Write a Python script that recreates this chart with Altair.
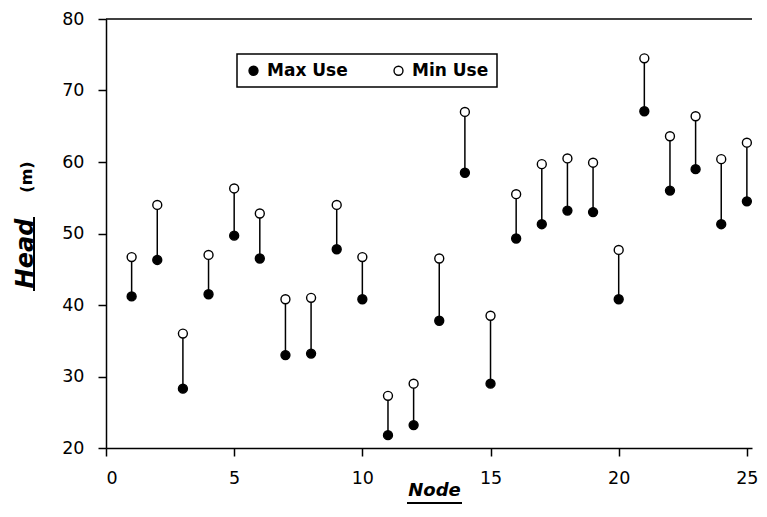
import altair as alt
import pandas as pd

nodes = list(range(1, 26))
max_use = [41.2, 46.3, 28.3, 41.5, 49.7, 46.5, 33.0, 33.2, 47.8, 40.8,
           21.8, 23.2, 37.8, 58.5, 29.0, 49.3, 51.3, 53.2, 53.0, 40.8,
           67.1, 56.0, 59.0, 51.3, 54.5]
min_use = [46.7, 54.0, 36.0, 47.0, 56.3, 52.8, 40.8, 41.0, 54.0, 46.7,
           27.3, 29.0, 46.5, 67.0, 38.5, 55.5, 59.7, 60.5, 59.9, 47.7,
           74.5, 63.6, 66.4, 60.4, 62.7]
series_names = ["Max Use", "Min Use"]
x_ticks = [0, 5, 10, 15, 20, 25]
y_ticks = [20, 30, 40, 50, 60, 70, 80]

wide = pd.DataFrame({"node": nodes, "max": max_use, "min": min_use})
long = pd.concat([
    pd.DataFrame({"node": nodes, "value": max_use, "series": series_names[0]}),
    pd.DataFrame({"node": nodes, "value": min_use, "series": series_names[1]}),
])
one = wide.head(1)

FONT = "DejaVu Sans"

xscale = alt.Scale(domain=[0, 25.2], nice=False, zero=False)
yscale = alt.Scale(domain=[20, 80], nice=False, zero=False)

xaxis = alt.Axis(values=x_ticks, grid=False, tickSize=8, tickColor="black",
                 domainColor="black", domainWidth=1.5, tickWidth=1.5,
                 labelFontSize=17.5, labelFont=FONT, labelColor="black", labelPadding=13,
                 title="Node", titleFont=FONT, titleFontSize=18,
                 titleFontWeight="bold", titleFontStyle="italic", titleColor="black",
                 titleX=328, titleY=42, titleBaseline="middle", titleAlign="center")
yaxis = alt.Axis(values=y_ticks, grid=False, tickSize=8, tickColor="black",
                 domainColor="black", domainWidth=1.5, tickWidth=1.5,
                 labelFontSize=17.5, labelFont=FONT, labelColor="black", labelPadding=14,
                 title="Head", titleFont=FONT, titleFontSize=24,
                 titleFontWeight="bold", titleFontStyle="italic", titleColor="black",
                 titleX=-81, titleY=234, titleAngle=270, titleBaseline="middle",
                 titleAlign="center")

top = alt.Chart(one).mark_rule(color="black", strokeWidth=1.5).encode(
    y=alt.datum(80, scale=yscale, axis=yaxis)
)

rules = alt.Chart(wide).mark_rule(color="black", strokeWidth=1.5).encode(
    x=alt.X("node:Q", scale=xscale, axis=xaxis),
    y=alt.Y("max:Q", scale=yscale, axis=yaxis),
    y2="min:Q",
)

points = alt.Chart(long).mark_circle(size=80, stroke="black", strokeWidth=1.4, opacity=1).encode(
    x=alt.X("node:Q", scale=xscale, axis=xaxis),
    y=alt.Y("value:Q", scale=yscale, axis=yaxis),
    fill=alt.Fill("series:N", scale=alt.Scale(domain=series_names, range=["black", "white"]),
                  legend=alt.Legend(title=None, orient="none", legendX=131, legendY=35,
                                    direction="horizontal", columnPadding=42,
                                    labelFont=FONT, labelFontSize=17, labelFontWeight="bold",
                                    labelColor="black", labelOffset=5,
                                    symbolType="circle", symbolSize=80,
                                    symbolStrokeColor="black", symbolStrokeWidth=1.4,
                                    padding=8, strokeColor="black")),
)

unit = alt.Chart(one).mark_text(font=FONT, fontSize=16, fontWeight="bold",
                                angle=270, color="black").encode(
    x=alt.value(-79), y=alt.value(158), text=alt.value("(m)")
)

# underlines of the axis titles
node_ul = alt.Chart(one).mark_rule(color="black", strokeWidth=2).encode(
    x=alt.value(301), x2=alt.value(356), y=alt.value(484)
)
head_ul = alt.Chart(one).mark_rule(color="black", strokeWidth=2).encode(
    x=alt.value(-72), y=alt.value(198), y2=alt.value(272)
)

chart = alt.layer(top, rules, points, unit, node_ul, head_ul).properties(
    width=646, height=429,
    autosize=alt.AutoSizeParams(type="none"),
    padding={"left": 98, "top": 11, "right": 7, "bottom": 60},
).configure_view(strokeWidth=0).configure_legend(strokeWidth=1.5)

chart.save("out.html", embed_options={"renderer": "svg", "actions": False})
